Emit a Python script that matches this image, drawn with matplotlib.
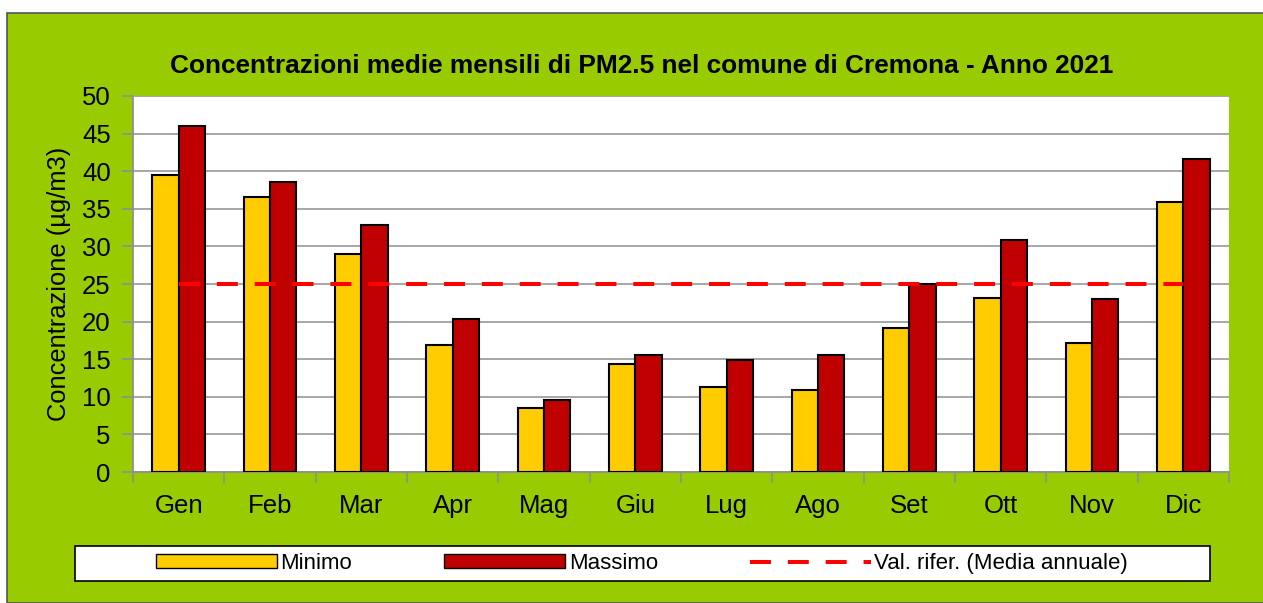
import numpy as np
import matplotlib.pyplot as plt
from matplotlib.patches import Rectangle, Patch
from matplotlib.lines import Line2D

plt.rcParams['font.family'] = ['Liberation Sans', 'DejaVu Sans']

# Dati
mesi = ["Gen", "Feb", "Mar", "Apr", "Mag", "Giu", "Lug", "Ago", "Set", "Ott", "Nov", "Dic"]
minimo = [39.5, 36.6, 29.0, 16.9, 8.5, 14.3, 11.3, 10.9, 19.1, 23.2, 17.2, 35.9]
massimo = [46.0, 38.5, 32.9, 20.4, 9.6, 15.6, 14.9, 15.6, 25.0, 30.9, 23.0, 41.6]
riferimento = [25] * 12

W, H = 1263, 603
fig = plt.figure(figsize=(W / 100, H / 100), dpi=100)
fig.patch.set_facecolor('white')

# sfondo verde con bordo grigio
fig.patches.append(Rectangle((7 / W, 0), 1 - 7 / W + 0.01, (H - 13) / H, transform=fig.transFigure,
                             facecolor='#99CC00', edgecolor='#555555', linewidth=1.2, zorder=-2))

ax = fig.add_axes([133 / W, (H - 472) / H, (1229 - 133) / W, (472 - 96) / H])
ax.set_facecolor('white')

x = np.arange(len(mesi))
w = 0.29
ax.bar(x - w / 2, minimo, w, color='#FFCC00', edgecolor='black', linewidth=1.5, zorder=3)
ax.bar(x + w / 2, massimo, w, color='#C00000', edgecolor='black', linewidth=1.5, zorder=3)
ax.plot(x, riferimento, color='#FF0000', linewidth=2.9, dashes=(5.2, 4.2), zorder=4)

ax.set_xlim(-0.5, 11.5)
ax.set_ylim(0, 50)
ax.set_yticks(range(0, 51, 5))
ax.yaxis.grid(True, color='#A0A0A0', linewidth=1.3, zorder=0)
ax.set_axisbelow(True)

ax.set_xticks(np.arange(-0.5, 12, 1))
ax.set_xticklabels([])
ax.set_xticks(x, minor=True)
ax.set_xticklabels(mesi, minor=True, fontsize=18.5)
ax.tick_params(axis='x', which='minor', length=0, pad=16)
ax.tick_params(axis='x', which='major', length=8, color='#909090', width=1.2)
ax.tick_params(axis='y', length=8, color='#909090', width=1.2, labelsize=18.5, pad=8)

for s in ['top', 'right']:
    ax.spines[s].set_visible(False)
for s in ['left', 'bottom']:
    ax.spines[s].set_color('#909090')
    ax.spines[s].set_linewidth(1.3)

ax.set_ylabel("Concentrazione (µg/m3)", fontsize=18.4, labelpad=8)
fig.text(642 / W, (H - 66) / H, "Concentrazioni medie mensili di PM2.5 nel comune di Cremona - Anno 2021",
         ha='center', va='center', fontsize=18.9, fontweight='bold')

# legenda
fig.patches.append(Rectangle((75 / W, (H - 581) / H), (1210 - 75) / W, 35 / H, transform=fig.transFigure,
                             facecolor='white', edgecolor='black', linewidth=1.2, zorder=-1))
handles = [Patch(facecolor='#FFCC00', edgecolor='black', linewidth=1),
           Patch(facecolor='#C00000', edgecolor='black', linewidth=1),
           Line2D([], [], color='#FF0000', linewidth=2.9, dashes=(5.2, 4.2))]
fig.legend(handles, ["Minimo", "Massimo", "Val. rifer. (Media annuale)"], loc='center',
           bbox_to_anchor=(642 / W, (H - 563.5) / H), ncol=3, frameon=False, fontsize=16,
           handlelength=5.45, handleheight=0.6, handletextpad=0.15, columnspacing=4.14)

fig.savefig('out.png', dpi=100, facecolor=fig.get_facecolor())
